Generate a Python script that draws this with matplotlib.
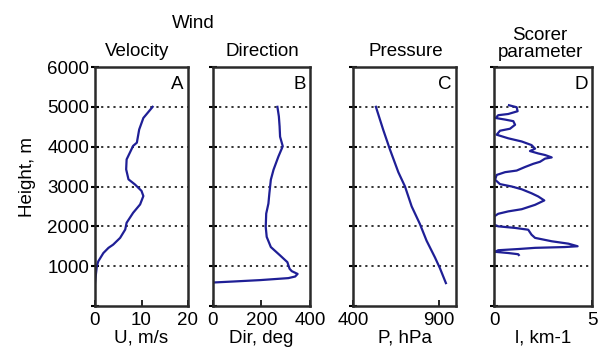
import numpy as np
import matplotlib.pyplot as plt

plt.rcParams['font.family'] = ['Liberation Sans', 'DejaVu Sans']

# profile data (height in m)
vel_h = [5000, 4720, 4430, 4100, 4020, 3680, 3430, 3180, 3050, 2890, 2760, 2550,
         2340, 2090, 1920, 1710, 1540, 1460, 1330, 1120, 1000, 750, 580]
vel_u = [12.4, 10.4, 9.5, 9.0, 8.2, 6.8, 6.7, 7.2, 8.6, 10.0, 10.4, 9.7,
         8.2, 6.8, 6.5, 5.4, 3.9, 2.9, 1.8, 0.7, 0.4, 0.15, 0.0]

dir_h = [5000, 4760, 4510, 4250, 4010, 3750, 3420, 3170, 2830, 2570, 2320, 1985,
         1735, 1480, 1270, 1100, 935, 875, 805, 740, 700, 650, 615, 590]
dir_d = [266, 272, 275, 277, 288, 270, 250, 239, 233, 229, 220, 218,
         222, 239, 277, 307, 316, 325, 349, 339, 311, 195, 85, 3]

pres_h = [5000, 4420, 3930, 3360, 3000, 2500, 2060, 1640, 1220, 950, 575]
pres_p = [532, 575, 614, 663, 702, 741, 789, 828, 877, 906, 941]

sc_h = [5040, 4990, 4890, 4820, 4790, 4720, 4680, 4640, 4550, 4450, 4400, 4300,
        4210, 4130, 4040, 3950, 3890, 3830, 3790, 3730, 3700, 3620, 3570, 3490,
        3400, 3360, 3290, 3170, 3060, 3000, 2930, 2830, 2750, 2650, 2540, 2430,
        2375, 2315, 2250, 2040, 2000, 1960, 1915, 1790, 1710, 1625, 1565, 1500,
        1480, 1460, 1430, 1400, 1360, 1330, 1300, 1280]
sc_l = [0.75, 1.14, 1.19, 0.71, 0.2, 0.07, 0.55, 0.97, 1.06, 0.8, 0.29, 0.12,
        0.71, 1.4, 1.9, 2.08, 1.82, 2.24, 2.59, 2.93, 2.59, 2.33, 1.99, 1.57,
        1.14, 0.55, 0.12, 0.04, 0.29, 0.89, 1.4, 1.9, 2.24, 2.55, 2.08, 1.4,
        0.71, 0.2, 0.0, 0.0, 0.2, 1.06, 1.73, 1.9, 2.08, 2.93, 3.78, 4.25,
        3.6, 2.08, 1.22, 0.2, 0.04, 0.71, 1.22, 1.25]

panels = [
    (vel_u, vel_h, (0, 20), [0, 10, 20], 'U, m/s', 'Velocity', 'A'),
    (dir_d, dir_h, (0, 400), [0, 200, 400], 'Dir, deg', 'Direction', 'B'),
    (pres_p, pres_h, (400, 1000), [400, 900], 'P, hPa', 'Pressure', 'C'),
    (sc_l, sc_h, (0, 5), [0, 5], 'l, km-1', 'Scorer\nparameter', 'D'),
]
lefts = [95, 212.7, 353.3, 494.3]
widths = [93, 97.3, 102.7, 98]
W, H = 606, 354
line_col = '#1f1f96'
fs = 13.5

fig = plt.figure(figsize=(6.06, 3.54), dpi=100)

for i, (x, y, xl, xt, xlab, title, letter) in enumerate(panels):
    ax = fig.add_axes([lefts[i] / W, 1 - 306 / H, widths[i] / W, 239 / H])
    ax.plot(x, y, color=line_col, lw=1.6)
    ax.set_xlim(*xl)
    ax.set_ylim(0, 6000)
    ax.set_xticks(xt)
    ax.set_yticks([0, 1000, 2000, 3000, 4000, 5000, 6000])
    for yy in [1000, 2000, 3000, 4000, 5000]:
        ax.axhline(yy, color='#222222', lw=1.3, ls=(0, (1.2, 2.2)), zorder=0)
    for s in ax.spines.values():
        s.set_linewidth(1.8)
        s.set_color('#2a2a2a')
    ax.tick_params(axis='y', direction='inout', length=6, width=1.5,
                   labelsize=fs, pad=1, labelleft=(i == 0))
    ax.tick_params(axis='x', direction='in', length=4, width=1.2,
                   labelsize=fs, pad=4)
    if i == 0:
        ax.set_yticklabels(['', '1000', '2000', '3000', '4000', '5000', '6000'])
    ax.set_xlabel(xlab, fontsize=fs, labelpad=1)
    ax.text(0.955, 0.925, letter, transform=ax.transAxes, ha='right',
            va='center', fontsize=fs)

fig.text(193 / W, 1 - 24 / H, 'Wind', ha='center', va='center', fontsize=fs)
fig.text(137 / W, 1 - 52 / H, 'Velocity', ha='center', va='center', fontsize=fs)
fig.text(262 / W, 1 - 52 / H, 'Direction', ha='center', va='center', fontsize=fs)
fig.text(406 / W, 1 - 52 / H, 'Pressure', ha='center', va='center', fontsize=fs)
fig.text(540 / W, 1 - 44 / H, 'Scorer\nparameter', ha='center', va='center',
         fontsize=fs, linespacing=0.95)
fig.text(27 / W, 1 - 177 / H, 'Height, m', ha='center', va='center',
         rotation=90, fontsize=fs)

fig.savefig('out.png', dpi=100)
